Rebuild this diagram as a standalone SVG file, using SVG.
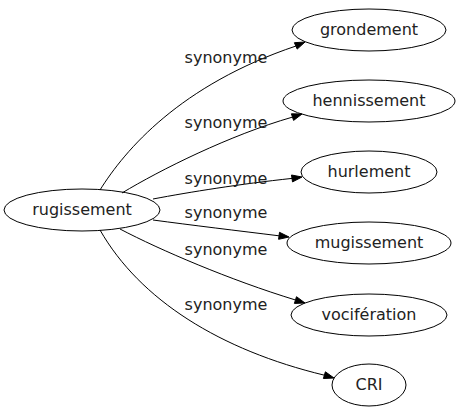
<svg xmlns="http://www.w3.org/2000/svg" width="459" height="419" viewBox="0 0 459 419">
<style>
.n ellipse{fill:none;stroke:#000;stroke-width:1}
text{font-family:"DejaVu Sans",sans-serif;font-size:16px;fill:#222;text-anchor:middle}
.e path{fill:none;stroke:#000;stroke-width:1}
.e polygon{fill:#000;stroke:#000;stroke-width:1}
</style>
<rect width="459" height="419" fill="#fff"/>
<g id="n0" class="n"><ellipse cx="82" cy="210" rx="78" ry="21"/><text x="82" y="215">rugissement</text></g>
<g id="n1" class="n"><ellipse cx="369" cy="30" rx="77" ry="21"/><text x="369" y="35">grondement</text></g>
<g id="n2" class="n"><ellipse cx="369" cy="101" rx="86" ry="21"/><text x="369" y="106">hennissement</text></g>
<g id="n3" class="n"><ellipse cx="369" cy="172" rx="68" ry="21"/><text x="369" y="177">hurlement</text></g>
<g id="n4" class="n"><ellipse cx="369" cy="243" rx="82" ry="21"/><text x="369" y="248">mugissement</text></g>
<g id="n5" class="n"><ellipse cx="369" cy="315" rx="78" ry="21"/><text x="369" y="320">vocifération</text></g>
<g id="n6" class="n"><ellipse cx="369" cy="385" rx="37" ry="21"/><text x="369" y="390">CRI</text></g>
<g id="edges" class="e">
<path d="M100,190 C125,150 180,85 296,46"/>
<polygon points="305,42 297.2,49.1 294.4,42.7"/>
<text x="226" y="63">synonyme</text>
<path d="M122,193 C160,170 230,135 292.5,117.1"/>
<polygon points="302,114 293.6,120.4 291.4,113.8"/>
<text x="226" y="128">synonyme</text>
<path d="M153,199 C190,192 240,184 292,178.4"/>
<polygon points="302,177 292.5,181.9 291.5,175"/>
<text x="226" y="184">synonyme</text>
<path d="M153,220 C190,225 240,231 279,235.8"/>
<polygon points="289,237 279.5,232.3 278.6,239.3"/>
<text x="226" y="218">synonyme</text>
<path d="M120,229 C160,250 230,280 295.5,300"/>
<polygon points="305,303 296.5,296.7 294.4,303.4"/>
<text x="226" y="255">synonyme</text>
<path d="M100,230 C140,300 220,350 324.4,375.2"/>
<polygon points="334,378 325.4,371.8 323.4,378.5"/>
<text x="226" y="310">synonyme</text>
</g>
</svg>
